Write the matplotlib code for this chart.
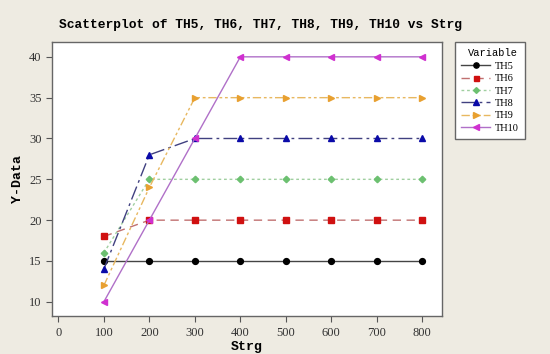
import numpy as np
import matplotlib
matplotlib.use("Agg")
import matplotlib.pyplot as plt

# data
strg = [100, 200, 300, 400, 500, 600, 700, 800]
th5 = [15, 15, 15, 15, 15, 15, 15, 15]
th6 = [18, 20, 20, 20, 20, 20, 20, 20]
th7 = [16, 25, 25, 25, 25, 25, 25, 25]
th8 = [14, 28, 30, 30, 30, 30, 30, 30]
th9 = [12, 24, 35, 35, 35, 35, 35, 35]
th10 = [10, 20, 30, 40, 40, 40, 40, 40]
x_ticks = [0, 100, 200, 300, 400, 500, 600, 700, 800]
y_ticks = [10, 15, 20, 25, 30, 35, 40]

bg = "#EEEBE2"
series = [
    (th5, "TH5", "black", "#444444", "o", "-", 4.2),
    (th6, "TH6", "#D01010", "#C07070", "s", (0, (6, 4)), 4),
    (th7, "TH7", "#6CC070", "#A0CFA0", "D", (0, (2, 2)), 3.3),
    (th8, "TH8", "#0A0AA8", "#404080", "^", (0, (10, 3, 2, 3)), 4.5),
    (th9, "TH9", "#E8A030", "#E8B860", ">", (0, (6, 2, 2, 2, 2, 2)), 4.8),
    (th10, "TH10", "#D030D0", "#B070C8", "<", "-", 4.8),
]

fig = plt.figure(figsize=(5.5, 3.54), dpi=100, facecolor=bg)
ax = fig.add_axes([0.0945, 0.107, 0.709, 0.774])
ax.set_facecolor("white")

for vals, name, mc, lc, mk, ls, ms in series:
    ax.plot(strg, vals, color=lc, linestyle=ls, linewidth=1.0,
            marker=mk, markersize=ms, markerfacecolor=mc, markeredgecolor=mc,
            label=name)

ax.set_xlim(-14, 843)
ax.set_ylim(8.25, 41.8)
ax.set_xticks(x_ticks)
ax.set_yticks(y_ticks)
for lab in ax.get_xticklabels() + ax.get_yticklabels():
    lab.set_family("Liberation Serif")
    lab.set_fontsize(9)
    lab.set_color("#333333")
ax.tick_params(direction="out", length=4, color="#555555", width=0.8)
for s in ax.spines.values():
    s.set_color("#666666")
    s.set_linewidth(1.0)

ax.set_xlabel("Strg", family="Liberation Mono", fontweight="bold", fontsize=9.5, labelpad=2)
ax.set_ylabel("Y-Data", family="Liberation Mono", fontweight="bold", fontsize=9.5, labelpad=4)
fig.suptitle("Scatterplot of TH5, TH6, TH7, TH8, TH9, TH10 vs Strg",
             family="Liberation Mono", fontweight="bold", fontsize=9.3, x=0.473, y=0.945)

leg = fig.legend(loc="upper left", bbox_to_anchor=(0.827, 0.881), borderaxespad=0,
                 title="Variable", prop={"family": "Liberation Serif", "size": 7.5},
                 handlelength=2.8, handletextpad=0.4, labelspacing=0.3,
                 fancybox=False, framealpha=1, edgecolor="#666666",
                 borderpad=0.6, markerscale=0.9)
leg.get_title().set_family("Liberation Mono")
leg.get_title().set_fontsize(7.5)
leg._legend_box.align = "right"
leg.get_frame().set_linewidth(1.0)

fig.savefig("out.png", dpi=100, facecolor=bg)
